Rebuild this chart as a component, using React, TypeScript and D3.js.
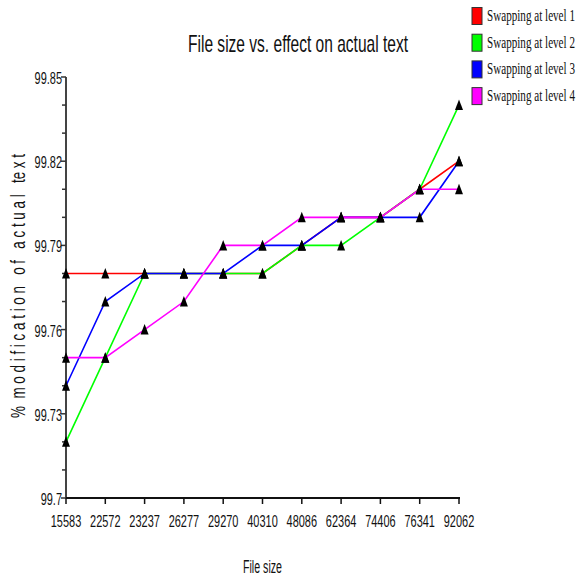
import React from "react";
import * as d3 from "d3";

// File sizes along the x axis (categorical)
const fileSizes = ["15583", "22572", "23237", "26277", "29270", "40310", "48086", "62364", "74406", "76341", "92062"];

// % modification of actual text for each swapping level
const level1 = [99.78, 99.78, 99.78, 99.78, 99.78, 99.78, 99.79, 99.80, 99.80, 99.81, 99.82];
const level2 = [99.72, 99.75, 99.78, 99.78, 99.78, 99.78, 99.79, 99.79, 99.80, 99.81, 99.84];
const level3 = [99.74, 99.77, 99.78, 99.78, 99.78, 99.79, 99.79, 99.80, 99.80, 99.80, 99.82];
const level4 = [99.75, 99.75, 99.76, 99.77, 99.79, 99.79, 99.80, 99.80, 99.80, 99.81, 99.81];

const seriesNames = ["Swapping at level 1", "Swapping at level 2", "Swapping at level 3", "Swapping at level 4"];
const seriesColors = ["#ff0000", "#00ff00", "#0000ff", "#ff00ff"];
const seriesValues = [level1, level2, level3, level4];

const yMajorTicks = [99.7, 99.73, 99.76, 99.79, 99.82, 99.85];
const yMajorLabels = ["99.7", "99.73", "99.76", "99.79", "99.82", "99.85"];
const yMinorTicks = [99.71, 99.72, 99.74, 99.75, 99.77, 99.78, 99.8, 99.81, 99.83, 99.84];

const W = 581;
const H = 578;
const plot = { left: 66, right: 459, top: 77, bottom: 498 };

const sansFont = "'Liberation Sans', Arial, sans-serif";
const serifFont = "'Liberation Serif', 'DejaVu Serif', serif";

// horizontal condensing factors for the narrow label faces
const numSqueeze = 0.645;
const legendSqueeze = 0.654;

export default function App() {
  const x = d3.scalePoint<string>().domain(fileSizes).range([plot.left, plot.right]);
  const y = d3.scaleLinear().domain([99.7, 99.85]).range([plot.bottom, plot.top]);

  const line = d3
    .line<number>()
    .x((_, i) => x(fileSizes[i]) as number)
    .y((v) => y(v));

  const tri = (cx: number, cy: number) =>
    `M${cx},${cy - 5.5}L${cx + 4},${cy + 5}L${cx - 4},${cy + 5}Z`;

  return (
    <svg
      width={W}
      height={H}
      style={{ position: "absolute", left: 0, top: 0, background: "#fff" }}
    >
      <rect x={0} y={0} width={W} height={H} fill="#fff" />

      {/* Title */}
      <text
        x={298}
        y={52}
        textAnchor="middle"
        fontFamily={sansFont}
        fontSize={24}
        textLength={220}
        lengthAdjust="spacingAndGlyphs"
        fill="#111"
      >
        File size vs. effect on actual text
      </text>

      {/* Y axis */}
      <line x1={plot.left} x2={plot.left} y1={plot.top} y2={plot.bottom} stroke="#444" strokeWidth={2} />
      {yMinorTicks.map((t) => (
        <line key={"m" + t} x1={plot.left - 4} x2={plot.left} y1={y(t)} y2={y(t)} stroke="#333" strokeWidth={1.5} />
      ))}
      {yMajorTicks.map((t, i) => (
        <g key={"M" + t}>
          <line x1={plot.left - 5} x2={plot.left} y1={y(t)} y2={y(t)} stroke="#333" strokeWidth={1.5} />
          <text
            transform={`translate(${plot.left - 4},${y(t) + 7}) scale(${numSqueeze},1)`}
            textAnchor="end"
            fontFamily={sansFont}
            fontSize={17}
            fill="#111"
          >
            {yMajorLabels[i]}
          </text>
        </g>
      ))}

      {/* X axis */}
      <line x1={plot.left} x2={plot.right + 1} y1={plot.bottom} y2={plot.bottom} stroke="#111" strokeWidth={2} />
      {fileSizes.map((f) => (
        <g key={f}>
          <line x1={x(f)} x2={x(f)} y1={plot.bottom} y2={plot.bottom + 6} stroke="#111" strokeWidth={1.5} />
          <text
            transform={`translate(${x(f)},527) scale(${numSqueeze},1)`}
            textAnchor="middle"
            fontFamily={sansFont}
            fontSize={17}
            fill="#111"
          >
            {f}
          </text>
        </g>
      ))}

      {/* Axis titles */}
      <text
        x={262.5}
        y={573}
        textAnchor="middle"
        fontFamily={sansFont}
        fontSize={18}
        textLength={39}
        lengthAdjust="spacingAndGlyphs"
        fill="#111"
      >
        File size
      </text>
      <text
        transform="translate(25,286) rotate(-90)"
        textAnchor="middle"
        fontFamily={sansFont}
        fontSize={20}
        textLength={264}
        lengthAdjust="spacingAndGlyphs"
        fill="#111"
        style={{ whiteSpace: "pre" }}
      >
        {"%  m o d i f i c a t i o n   o f   a c t u a l   te x t"}
      </text>

      {/* Series lines */}
      {seriesValues.map((vals, si) => (
        <path key={"l" + si} d={line(vals) as string} fill="none" stroke={seriesColors[si]} strokeWidth={1.6} />
      ))}

      {/* Markers */}
      {seriesValues.map((vals, si) =>
        vals.map((v, i) => (
          <path key={"p" + si + "-" + i} d={tri(x(fileSizes[i]) as number, y(v))} fill="#000" />
        ))
      )}

      {/* Legend */}
      {seriesNames.map((name, i) => {
        const cy = 16 + i * 26.7;
        return (
          <g key={name}>
            <rect x={472} y={cy - 8.5} width={10} height={17} fill={seriesColors[i]} stroke="#333" strokeWidth={1} />
            <text
              transform={`translate(487,${cy + 5}) scale(${legendSqueeze},1)`}
              fontFamily={serifFont}
              fontSize={17}
              fill="#111"
            >
              {name}
            </text>
          </g>
        );
      })}
    </svg>
  );
}
